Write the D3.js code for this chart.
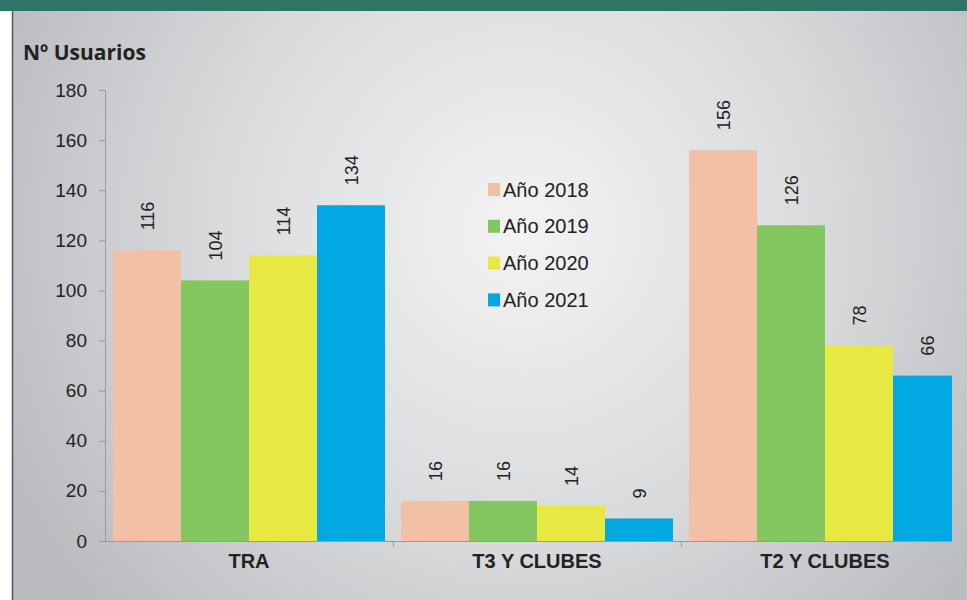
<!DOCTYPE html>
<html>
<head>
<meta charset="utf-8">
<script src="https://cdn.jsdelivr.net/npm/d3@7"></script>
<style>
  body { margin: 0; background: #fff; }
  svg { display: block; }
</style>
</head>
<body>
<div id="chart"></div>
<script>
// data
var categories = ["TRA", "T3 Y CLUBES", "T2 Y CLUBES"];
var years = ["Año 2018", "Año 2019", "Año 2020", "Año 2021"];
var v2018 = [116, 16, 156];
var v2019 = [104, 16, 126];
var v2020 = [114, 14, 78];
var v2021 = [134, 9, 66];
var yTicks = [0, 20, 40, 60, 80, 100, 120, 140, 160, 180];
var colors = ["#f2c0a5", "#84c660", "#e8e842", "#02a8e2"];

var series = [v2018, v2019, v2020, v2021];

var svgWidth = 967, svgHeight = 600;
var svg = d3.select("#chart").append("svg")
    .attr("width", svgWidth)
    .attr("height", svgHeight);

// background gradient
var defs = svg.append("defs");
var grad = defs.append("radialGradient")
    .attr("id", "bg")
    .attr("gradientUnits", "userSpaceOnUse")
    .attr("cx", 520).attr("cy", 230).attr("r", 560);
grad.append("stop").attr("offset", "0%").attr("stop-color", "#f3f3f3");
grad.append("stop").attr("offset", "55%").attr("stop-color", "#d9dadc");
grad.append("stop").attr("offset", "100%").attr("stop-color", "#bbbcc0");

defs.append("clipPath").attr("id", "plotClip")
  .append("rect").attr("x", 0).attr("y", 0).attr("width", 952).attr("height", 600);

svg.append("rect")
    .attr("x", 12).attr("y", 0)
    .attr("width", svgWidth - 12).attr("height", svgHeight)
    .attr("fill", "url(#bg)");

// top band and left border
svg.append("rect")
    .attr("x", 0).attr("y", 0)
    .attr("width", svgWidth).attr("height", 11)
    .attr("fill", "#2e7567");
svg.append("line")
    .attr("x1", 12.5).attr("x2", 12.5)
    .attr("y1", 11).attr("y2", svgHeight)
    .attr("stroke", "#555").attr("stroke-width", 1.5);

// scales
var x0 = d3.scaleBand().domain(categories).range([105, 969]);
var x1 = d3.scaleBand().domain(years).range([8, x0.bandwidth() - 8]);
var y = d3.scaleLinear().domain([0, 180]).range([541, 90]);

var plot = svg.append("g").attr("clip-path", "url(#plotClip)");

// bars
years.forEach(function(yr, i) {
    plot.selectAll(".bar" + i)
        .data(categories)
        .enter()
        .append("rect")
        .attr("x", function(c) { return x0(c) + x1(yr); })
        .attr("y", function(c, j) { return y(series[i][j]); })
        .attr("width", x1.bandwidth())
        .attr("height", function(c, j) { return y(0) - y(series[i][j]); })
        .attr("fill", colors[i]);

    plot.selectAll(".lbl" + i)
        .data(categories)
        .enter()
        .append("text")
        .attr("transform", function(c, j) {
            var cx = x0(c) + x1(yr) + x1.bandwidth() / 2 + 1;
            return "translate(" + cx + "," + (y(series[i][j]) - 20) + ") rotate(-90)";
        })
        .attr("dy", "0.35em")
        .attr("font-family", "Liberation Sans, Arial, sans-serif")
        .attr("font-size", 18)
        .attr("fill", "#222")
        .text(function(c, j) { return series[i][j]; });
});

// y axis
var leftAxis = d3.axisLeft(y).tickValues(yTicks).tickSize(6).tickPadding(12);
var gy = svg.append("g").attr("transform", "translate(105,0)").call(leftAxis);
gy.select(".domain").attr("stroke", "#9a9a9a");
gy.selectAll(".tick line").attr("stroke", "#9a9a9a");
gy.selectAll(".tick text")
    .attr("font-family", "Liberation Sans, Arial, sans-serif")
    .attr("font-size", 19)
    .attr("fill", "#222");

// x axis
var bottomAxis = d3.axisBottom(x0).tickSize(0).tickPadding(13);
var gx = svg.append("g").attr("transform", "translate(0,541)")
    .attr("clip-path", "url(#plotClip)")
    .call(bottomAxis);
gx.select(".domain").attr("stroke", "#9a9a9a");
gx.selectAll(".tick text")
    .attr("font-family", "Liberation Sans, Arial, sans-serif")
    .attr("font-size", 20)
    .attr("font-weight", "bold")
    .attr("fill", "#222");
// category dividers
gx.selectAll(".divider")
    .data(categories.slice(1))
    .enter()
    .append("line")
    .attr("x1", function(c) { return x0(c) + 0.5; })
    .attr("x2", function(c) { return x0(c) + 0.5; })
    .attr("y1", 0).attr("y2", 6)
    .attr("stroke", "#9a9a9a");

// axis title
svg.append("text")
    .attr("x", 23).attr("y", 60)
    .attr("font-family", "Open Sans, sans-serif")
    .attr("font-weight", "bold")
    .attr("font-size", 21)
    .attr("fill", "#222")
    .text("Nº Usuarios");

// legend
var legend = svg.append("g").attr("transform", "translate(488,189.5)");
years.forEach(function(yr, i) {
    var row = legend.append("g").attr("transform", "translate(0," + (i * 36.8) + ")");
    row.append("rect")
        .attr("x", 0).attr("y", -6.5)
        .attr("width", 12).attr("height", 13)
        .attr("fill", colors[i]);
    row.append("text")
        .attr("x", 15).attr("y", 0)
        .attr("dy", "0.35em")
        .attr("font-family", "Liberation Sans, Arial, sans-serif")
        .attr("font-size", 20)
        .attr("fill", "#222")
        .text(yr);
});
</script>
</body>
</html>
